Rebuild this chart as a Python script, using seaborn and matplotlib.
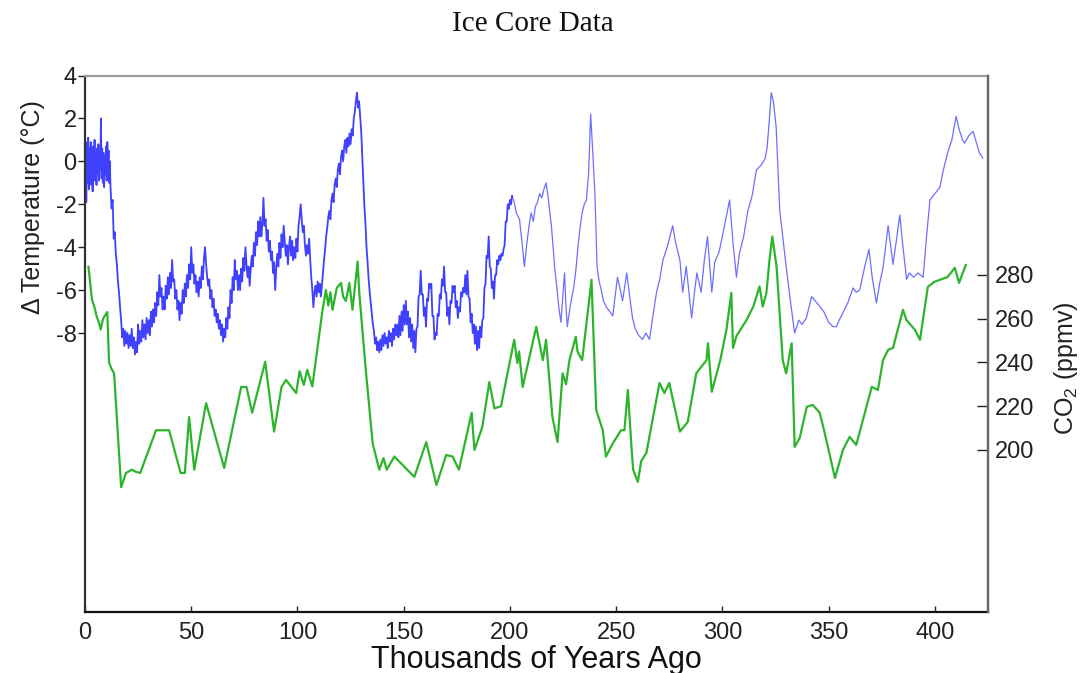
import matplotlib
matplotlib.use("Agg")
import matplotlib.pyplot as plt
import pandas as pd
import seaborn as sns

# ---- data (age in thousands of years ago) ----
temp_points = [
    (0.0,-0.3),(0.3,0.9),(0.6,-1.9),(0.9,0.3),(1.2,-1.0),(1.5,1.1),(1.8,-1.3),(2.1,0.6),(2.4,-0.7),(2.7,0.9),
    (3.0,-1.1),(3.3,0.5),(3.6,-1.4),(3.9,0.7),(4.2,-0.5),(4.5,1.0),(4.8,-0.9),(5.1,0.4),(5.4,-1.1),(5.7,0.6),
    (6.0,-0.6),(6.3,0.8),(6.6,-0.9),(6.9,0.5),(7.2,-0.4),(7.5,2.0),(7.8,-0.8),(8.1,0.6),(8.4,-1.0),(8.7,0.4),
    (9.0,-1.2),(9.3,0.2),(9.6,-0.6),(9.9,0.7),(10.2,-0.9),(10.5,0.9),(10.8,-0.3),(11.1,0.5),(11.4,-1.0),(11.7,0.0),
    (12.0,-1.2),(12.5,-2.2),(13.0,-1.8),(13.5,-3.6),(14.0,-3.3),(14.5,-4.3),(15.0,-4.8),(15.5,-5.6),(16.0,-6.1),
    (16.5,-6.8),(17.0,-7.4),(17.5,-8.2),(18.0,-7.8),(18.5,-8.6),(19.0,-7.9),(19.5,-8.5),(20.0,-8.0),(20.5,-8.7),
    (21.0,-8.1),(21.5,-8.6),(22.0,-7.8),(22.5,-8.7),(23.0,-8.2),(23.5,-9.0),(24.0,-8.4),(24.5,-8.9),(25.0,-7.6),
    (25.5,-8.5),(26.0,-7.9),(26.5,-8.4),(27.0,-7.4),(27.5,-8.2),(28.0,-7.6),(28.5,-8.3),(29.0,-7.3),(29.5,-8.0),
    (30.0,-7.4),(30.5,-8.1),(31.0,-7.0),(31.5,-7.7),(32.0,-6.9),(32.5,-7.5),(33.0,-6.6),(33.5,-7.2),(34.0,-6.1),
    (34.5,-6.7),(35.0,-5.3),(35.5,-6.3),(36.0,-5.9),(36.5,-6.9),(37.0,-6.3),(37.5,-6.9),(38.0,-5.8),(38.5,-6.4),
    (39.0,-5.4),(39.5,-6.2),(40.0,-5.2),(40.5,-5.9),(41.0,-4.6),(41.5,-5.6),(42.0,-5.5),(42.5,-6.4),(43.0,-6.0),
    (43.5,-6.9),(44.0,-6.5),(44.5,-7.4),(45.0,-6.6),(45.5,-7.1),(46.0,-6.0),(46.5,-6.6),(47.0,-5.7),(47.5,-6.3),
    (48.0,-5.3),(48.5,-5.9),(49.0,-4.8),(49.5,-5.5),(50.0,-4.0),(50.5,-5.2),(51.0,-4.8),(51.5,-5.7),(52.0,-5.3),
    (52.5,-6.1),(53.0,-5.6),(53.5,-6.3),(54.0,-5.4),(54.5,-5.9),(55.0,-4.9),(55.5,-5.5),(56.0,-4.5),(56.5,-4.0),
    (57.0,-4.8),(57.5,-5.4),(58.0,-5.8),(58.5,-5.5),(59.0,-6.4),(59.5,-6.0),(60.0,-6.8),(60.5,-6.4),(61.0,-7.2),
    (61.5,-6.9),(62.0,-7.5),(62.5,-7.1),(63.0,-7.8),(63.5,-7.4),(64.0,-8.1),(64.5,-7.6),(65.0,-8.4),(65.5,-7.8),
    (66.0,-8.2),(66.5,-7.3),(67.0,-7.8),(67.5,-6.8),(68.0,-7.3),(68.5,-6.0),(69.0,-6.6),(69.5,-5.4),(70.0,-6.0),
    (70.5,-4.6),(71.0,-5.5),(71.5,-5.1),(72.0,-6.0),(72.5,-5.3),(73.0,-6.0),(73.5,-5.0),(74.0,-5.6),(74.5,-4.5),
    (75.0,-5.1),(75.5,-4.0),(76.0,-4.8),(76.5,-5.4),(77.0,-4.9),(77.5,-5.8),(78.0,-5.0),(78.5,-4.4),(79.0,-4.9),
    (79.5,-3.8),(80.0,-4.4),(80.5,-3.3),(81.0,-3.9),(81.5,-2.8),(82.0,-3.5),(82.5,-2.6),(83.0,-3.5),(83.5,-2.9),
    (84.0,-1.7),(84.5,-3.0),(85.0,-2.7),(85.5,-3.7),(86.0,-3.2),(86.5,-4.2),(87.0,-3.7),(87.5,-4.6),(88.0,-4.2),
    (88.5,-5.2),(89.0,-4.7),(89.5,-6.0),(90.0,-5.0),(90.5,-4.3),(91.0,-4.9),(91.5,-3.8),(92.0,-4.5),(92.5,-3.4),
    (93.0,-4.0),(93.5,-3.0),(94.0,-3.7),(94.5,-4.4),(95.0,-3.9),(95.5,-4.8),(96.0,-4.0),(96.5,-3.5),(97.0,-4.4),
    (97.5,-3.7),(98.0,-4.6),(98.5,-4.0),(99.0,-4.5),(99.5,-3.6),(100.0,-4.2),(100.5,-3.0),(101.0,-2.6),(101.5,-2.0),
    (102.0,-2.7),(102.5,-3.3),(103.0,-3.0),(103.5,-3.9),(104.0,-4.4),(104.5,-3.9),(105.0,-4.3),(105.5,-3.6),
    (106.0,-4.6),(106.5,-5.4),(107.0,-6.0),(107.5,-6.8),(108.0,-6.1),(108.5,-5.8),(109.0,-6.3),(109.5,-5.6),
    (110.0,-6.1),(110.5,-5.7),(111.0,-6.3),(111.5,-5.8),(112.0,-5.2),(112.5,-4.6),(113.0,-4.1),(113.5,-3.5),
    (114.0,-3.1),(114.5,-2.6),(115.0,-2.3),(115.5,-2.7),(116.0,-1.8),(116.5,-1.5),(117.0,-1.9),(117.5,-1.1),
    (118.0,-0.8),(118.5,-1.2),(119.0,-0.4),(119.5,-0.1),(120.0,-0.6),(120.5,0.2),(121.0,0.5),(121.5,0.0),
    (122.0,0.7),(122.5,1.0),(123.0,0.4),(123.5,1.1),(124.0,0.7),(124.5,1.3),(125.0,0.8),(125.5,1.5),(126.0,1.2),
    (126.5,2.0),(127.0,2.3),(127.5,2.8),(128.0,3.2),(128.5,2.5),(129.0,2.8),(129.5,2.1),(130.0,1.4),(130.5,0.2),
    (131.0,-1.0),(131.5,-2.1),(132.0,-2.9),(132.5,-4.0),(133.0,-4.7),(133.5,-5.5),(134.0,-6.1),(134.5,-6.6),
    (135.0,-7.1),(135.5,-7.6),(136.0,-7.9),(136.5,-8.5),(137.0,-8.2),(137.5,-8.8),(138.0,-8.4),(138.5,-8.9),
    (139.0,-8.3),(139.5,-8.8),(140.0,-8.1),(140.5,-8.6),(141.0,-8.0),(141.5,-8.5),(142.0,-8.2),(142.5,-8.7),
    (143.0,-7.9),(143.5,-8.4),(144.0,-8.0),(144.5,-8.6),(145.0,-7.8),(145.5,-8.3),(146.0,-7.6),(146.5,-8.1),
    (147.0,-7.6),(147.5,-8.2),(148.0,-7.2),(148.5,-8.1),(149.0,-7.0),(149.5,-7.9),(150.0,-6.7),(150.5,-7.6),
    (151.0,-6.5),(151.5,-7.6),(152.0,-7.0),(152.5,-8.2),(153.0,-7.3),(153.5,-8.4),(154.0,-7.6),(154.5,-8.7),
    (155.0,-7.9),(155.5,-8.9),(156.0,-7.8),(156.5,-7.7),(157.0,-6.3),(157.5,-6.2),(158.0,-5.1),(158.5,-6.2),
    (159.0,-6.2),(159.5,-7.2),(160.0,-6.8),(160.5,-7.7),(161.0,-6.4),(161.5,-6.5),(162.0,-5.7),(162.5,-5.9),
    (163.0,-5.7),(163.5,-7.2),(164.0,-7.2),(164.5,-8.3),(165.0,-8.0),(165.5,-8.1),(166.0,-7.1),(166.5,-7.2),
    (167.0,-6.2),(167.5,-6.4),(168.0,-5.5),(168.5,-5.8),(169.0,-4.9),(169.5,-6.1),(170.0,-6.1),(170.5,-7.2),
    (171.0,-6.8),(171.5,-7.6),(172.0,-6.5),(172.5,-6.6),(173.0,-5.8),(173.5,-6.1),(174.0,-5.8),(174.5,-6.8),
    (175.0,-6.5),(175.5,-7.3),(176.0,-6.8),(176.5,-7.0),(177.0,-6.1),(177.5,-6.3),(178.0,-5.9),(178.5,-6.1),
    (179.0,-5.3),(179.5,-6.2),(180.0,-5.1),(180.5,-6.3),(181.0,-6.4),(181.5,-7.5),(182.0,-7.1),(182.5,-8.0),
    (183.0,-7.6),(183.5,-8.5),(184.0,-7.7),(184.5,-8.8),(185.0,-7.9),(185.5,-8.7),(186.0,-7.7),(186.5,-8.2),
    (187.0,-7.4),(187.5,-7.3),(188.0,-5.9),(188.5,-5.7),(189.0,-4.4),(189.5,-4.5),(190.0,-3.5),(190.5,-4.9),
    (191.0,-5.0),(191.5,-5.9),(192.0,-5.6),(192.5,-6.4),(193.0,-5.3),(193.5,-5.3),(194.0,-4.6),(194.5,-4.8),
    (195.0,-4.4),(195.5,-4.6),(196.0,-4.3),(196.5,-4.4),(197.0,-4.1),(197.5,-3.9),(198.0,-2.8),(198.5,-2.8),
    (199.0,-2.0),(199.5,-2.2),(200.0,-1.8),(200.5,-2.0),(201.0,-1.6),(202.0,-1.9),(203.0,-2.4),(204.5,-2.7),
    (205.5,-3.6),(206.8,-4.9),(208.0,-3.8),(209.0,-3.0),(210.0,-2.4),(211.0,-2.8),(212.0,-2.1),(213.0,-1.9),
    (214.0,-1.5),(215.0,-1.7),(216.0,-1.3),(217.0,-1.0),(218.0,-1.7),(219.5,-3.0),(220.5,-4.2),(221.0,-4.9),
    (222.0,-5.8),(223.0,-6.8),(224.0,-7.5),(224.8,-6.4),(225.7,-5.2),(226.3,-6.6),(227.0,-7.7),(228.0,-7.0),
    (229.0,-6.4),(230.0,-5.9),(231.0,-5.1),(232.0,-4.0),(233.0,-3.1),(234.0,-2.4),(235.0,-2.0),(236.0,-1.8),
    (237.0,-0.6),(238.0,2.2),(239.0,0.4),(240.0,-1.5),(241.0,-4.9),(242.0,-5.6),(243.0,-6.0),(244.0,-6.5),
    (245.5,-6.8),(247.0,-7.0),(248.4,-7.2),(250.6,-5.4),(252.0,-6.0),(253.0,-6.5),(255.0,-5.2),(256.5,-6.4),
    (257.7,-7.3),(259.0,-7.8),(260.5,-8.1),(262.4,-8.3),(264.0,-8.0),(265.7,-8.3),(267.0,-7.4),(269.0,-6.1),
    (270.5,-5.5),(272.0,-4.6),(274.0,-4.0),(276.6,-3.0),(278.0,-3.8),(280.0,-4.6),(281.3,-6.1),(283.0,-4.9),
    (285.5,-7.3),(287.0,-6.0),(288.0,-5.2),(290.0,-6.1),(291.5,-4.6),(293.0,-3.5),(295.0,-6.1),(296.4,-4.7),
    (298.5,-4.2),(301.0,-3.0),(303.4,-1.8),(305.0,-3.8),(306.6,-5.4),(308.0,-4.3),(310.0,-3.5),(312.0,-2.3),
    (314.0,-1.6),(316.0,-0.4),(318.0,-0.2),(320.0,0.1),(321.0,0.6),(322.0,1.8),(323.0,3.2),(324.0,2.8),
    (325.3,1.6),(327.0,-2.3),(330.0,-4.9),(332.0,-6.5),(334.0,-8.0),(336.0,-7.4),(337.5,-7.6),(339.5,-7.3),
    (342.0,-6.3),(344.5,-6.6),(347.7,-7.0),(350.0,-7.5),(352.0,-7.7),(353.7,-7.7),(355.0,-7.4),(357.0,-7.0),
    (359.0,-6.6),(361.5,-5.9),(363.0,-6.1),(364.6,-6.0),(367.0,-4.9),(369.0,-4.1),(370.5,-5.4),(372.5,-6.6),
    (374.0,-5.7),(375.7,-4.9),(378.0,-3.0),(380.3,-4.8),(382.0,-3.6),(383.5,-2.5),(385.0,-4.0),(386.7,-5.5),
    (388.0,-5.2),(390.0,-5.4),(392.0,-5.2),(394.5,-5.4),(396.0,-3.6),(397.7,-1.8),(400.8,-1.4),(402.4,-1.2),
    (404.0,-0.4),(406.0,0.4),(408.0,1.0),(410.0,2.1),(411.4,1.5),(413.0,1.0),(414.0,0.85),(416.0,1.2),
    (418.0,1.4),(419.6,0.85),(421.0,0.4),(422.6,0.15),
]

co2_points = [
    (1.6,283.8),(3.3,268.6),(4.2,266),(5.5,261),(6.6,258),(7.4,255),(8.5,260),(10.5,263),(11.3,240),
    (12.5,237),(13.7,235),(17.0,183),(19.3,189.5),(22.0,191),(24.0,190),(26.0,189.5),(33.4,209),(39.6,209),
    (45.0,189.5),(47.0,189.5),(49.0,215),(51.4,191),(57.0,221.4),(65.5,191.8),(73.5,228.8),(76.0,228.8),
    (78.7,217),(84.8,240.3),(89.0,208.4),(92.5,228.8),(94.6,232),(99.4,226),(101.0,236),(103.0,229.7),
    (104.6,236.6),(107.0,229),(111.8,264),(113.4,273),(114.5,266),(115.5,272),(116.5,264),(118.5,274),
    (120.5,276.3),(121.5,270),(122.8,268),(124.4,276.3),(125.9,264),(128.3,286),(129.1,271.6),(132.2,236),
    (135.4,203),(138.5,191),(140.5,196.3),(142.0,191),(145.6,197),(155.0,187.7),(160.6,203.6),(165.4,184),
    (170.0,197.7),(173.0,197),(176.0,191),(182.0,217),(183.3,200),(187.0,210.5),(190.3,231),(192.7,219),
    (195.8,220),(202.0,250.3),(203.5,239.7),(204.3,245),(206.0,228.8),(212.4,256.2),(215.5,241),(217.0,250.3),
    (220.0,215),(222.4,203.6),(224.8,235),(226.4,230),(228.0,241),(231.0,251.7),(231.8,245),(234.0,241),
    (238.4,277.7),(240.6,218.3),(243.7,209),(245.2,197),(248.4,203),(252.3,209),(253.9,209),(255.5,227.4),
    (257.2,201.4),(258.0,191),(260.2,185.4),(261.8,195),(264.2,198.6),(270.4,230.6),(272.7,226),(275.0,230.6),
    (280.0,208.4),(283.7,212.8),(287.7,235),(292.5,241),(293.2,248.7),(295.0,226.6),(299.0,241),(301.9,254.9),
    (304.2,271.7),(305.0,246.6),(306.6,252),(311.4,259.4),(314.5,265.4),(317.5,274.7),(319.0,265.5),
    (320.7,271.7),(322.2,287),(323.5,297.5),(325.5,283.7),(328.4,241),(330.0,235),(332.6,248.7),(334.0,201.4),
    (336.4,205.5),(339.7,219.7),(342.5,220.6),(345.8,217),(348.0,208.4),(353.0,187.2),(356.7,200),(359.9,206),
    (363.0,202.3),(370.3,228.8),(373.2,227.4),(375.6,241),(378.0,245.7),(380.3,246.6),(385.0,264),
    (386.6,259.4),(390.6,254.9),(393.0,250.3),(396.7,274.5),(399.8,276.8),(406.0,279),(409.4,283.2),
    (411.4,276.3),(414.6,284.6),
]

x_ticks = [0, 50, 100, 150, 200, 250, 300, 350, 400]
temp_ticks = [-8, -6, -4, -2, 0, 2, 4]
co2_ticks = [200, 220, 240, 260, 280]

temp_df = pd.DataFrame(temp_points, columns=["age", "temp"])
co2_df = pd.DataFrame(co2_points, columns=["age", "co2"])
dense_df = temp_df[temp_df["age"] <= 201]      # high-resolution, noisy part
sparse_df = temp_df[temp_df["age"] >= 201]     # lower-resolution part

# ---- style ----
sns.set_style("ticks")
plt.rcParams["font.family"] = ["Liberation Sans", "DejaVu Sans"]
plt.rcParams["mathtext.fontset"] = "custom"
plt.rcParams["mathtext.rm"] = "Liberation Sans"
plt.rcParams["axes.unicode_minus"] = False

fig = plt.figure(figsize=(10.87, 6.73), dpi=100)
ax = fig.add_axes([0.0782, 0.0906, 0.8307, 0.7972])

sns.lineplot(data=dense_df, x="age", y="temp", ax=ax, color="#1010ff",
             linewidth=1.3, alpha=0.8, estimator=None, sort=False)
sns.lineplot(data=sparse_df, x="age", y="temp", ax=ax, color="#3030ff",
             linewidth=0.9, alpha=0.7, estimator=None, sort=False)
ax2 = ax.twinx()
sns.lineplot(data=co2_df, x="age", y="co2", ax=ax2, color="#2db42d",
             linewidth=1.6, estimator=None, sort=False)

ax.set_xlim(0, 425)
ax.set_ylim(-21, 4)
ax2.set_ylim(126, 371)
ax.set_xticks(x_ticks)
ax.set_yticks(temp_ticks)
ax2.set_yticks(co2_ticks)

tick_color = "#222222"
ax.tick_params(axis="y", direction="out", length=5, width=1, pad=1,
               labelsize=17, colors=tick_color)
ax.tick_params(axis="x", direction="in", length=4, width=1, pad=7,
               labelsize=17, colors=tick_color)
ax2.tick_params(axis="y", direction="in", length=8, width=1, pad=5,
                labelsize=17, colors=tick_color)

for side, col in [("left", "#333333"), ("bottom", "#111111"),
                  ("top", "#9a9a9a"), ("right", "#666666")]:
    ax.spines[side].set_visible(True)
    ax.spines[side].set_color(col)
    ax.spines[side].set_linewidth(1.6)
for side in ["left", "bottom", "top"]:
    ax2.spines[side].set_visible(False)
ax2.spines["right"].set_color("#666666")
ax2.spines["right"].set_linewidth(1.6)

ax.set_xlabel("Thousands of Years Ago", fontsize=22, color="#111111", labelpad=1)
ax.set_ylabel("\u0394 Temperature (\u00b0C)", fontsize=18, color="#222222")
ax.yaxis.set_label_coords(-0.0443, 0.754)
ax2.set_ylabel(r"CO$_\mathregular{2}$ (ppmv)", fontsize=18, color="#222222")
ax2.yaxis.set_label_coords(1.0709, 0.455)

fig.text(0.49, 0.954, "Ice Core Data", family="Liberation Serif", fontsize=21,
         ha="center", va="baseline", color="#111111")

fig.savefig("out.png", dpi=100)
